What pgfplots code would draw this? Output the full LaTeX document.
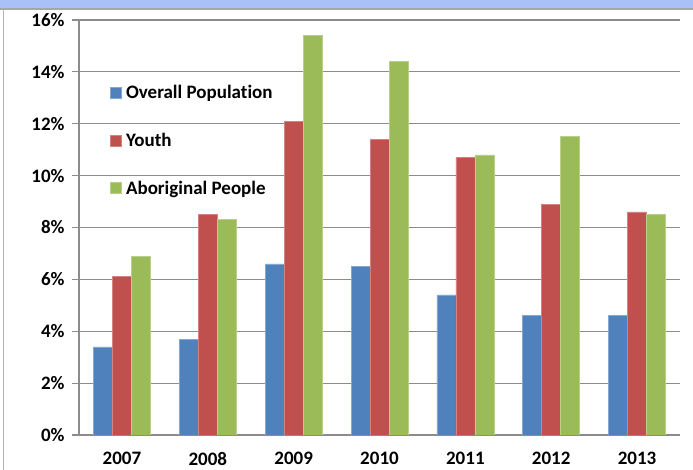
\documentclass[border=0pt]{standalone}
\usepackage{pgfplots}
\pgfplotsset{compat=1.18}
\usepackage{fontspec}
\setmainfont{Carlito}[Ligatures=NoCommon]
\definecolor{cblue}{HTML}{4F81BD}
\definecolor{cred}{HTML}{C0504D}
\definecolor{cgreen}{HTML}{9BBB59}
\definecolor{band}{HTML}{A9C1F7}
\definecolor{gridc}{HTML}{8C8C8C}
\begin{document}
\begin{tikzpicture}
\useasboundingbox (0,0) rectangle (693bp,470bp);
\fill[band] (0,462bp) rectangle (693bp,470bp);
\draw[gray!70,line width=1.2bp] (0,461bp) -- (693bp,461bp);
\draw[gray!60,line width=1bp] (3bp,0) -- (3bp,461bp);
\begin{axis}[
  at={(79bp,35bp)}, anchor=south west,
  width=601bp, height=415bp, scale only axis,
  ybar=0pt, bar width=19bp,
  xmin=-0.5, xmax=6.5, ymin=0, ymax=16,
  xtick={0,1,2,3,4,5,6},
  xticklabels={2007,2008,2009,2010,2011,2012,2013},
  ytick={0,2,4,6,8,10,12,14,16},
  yticklabels={0\%,2\%,4\%,6\%,8\%,10\%,12\%,14\%,16\%},
  axis x line=bottom, axis y line=left,
  axis line style={-,draw=gridc,line width=1.2bp},
  ymajorgrids, grid style={draw=gridc,line width=1.2bp},
  xtick style={draw=none},
  ytick style={draw=gridc,line width=1.2bp},
  tick align=outside, major tick length=7bp,
  ticklabel style={font=\fontsize{19bp}{22bp}\selectfont\bfseries},
  xticklabel style={yshift=-7bp},
  yticklabel style={xshift=-4bp},
  legend cell align=left,
  legend image code/.code={\fill[#1] (0bp,-5.5bp) rectangle (11bp,5.5bp);},
  legend style={draw=none, fill=none, at={(0.052,0.846)}, anchor=north west,
    inner sep=0pt, row sep=31bp,
    font=\fontsize{19bp}{22bp}\selectfont\bfseries,
    nodes={inner xsep=4bp, inner ysep=1bp}},
]
\addplot[fill=cblue, draw=cblue!70!white, line width=0.6bp] coordinates {(0,3.4) (1,3.7) (2,6.6) (3,6.5) (4,5.4) (5,4.6) (6,4.6)};
\addplot[fill=cred, draw=cred!70!white, line width=0.6bp] coordinates {(0,6.1) (1,8.5) (2,12.1) (3,11.4) (4,10.7) (5,8.9) (6,8.6)};
\addplot[fill=cgreen, draw=cgreen!70!white, line width=0.6bp] coordinates {(0,6.9) (1,8.3) (2,15.4) (3,14.4) (4,10.8) (5,11.5) (6,8.5)};
\legend{Overall Population, Youth, Aboriginal People}
\end{axis}
\end{tikzpicture}
\end{document}
